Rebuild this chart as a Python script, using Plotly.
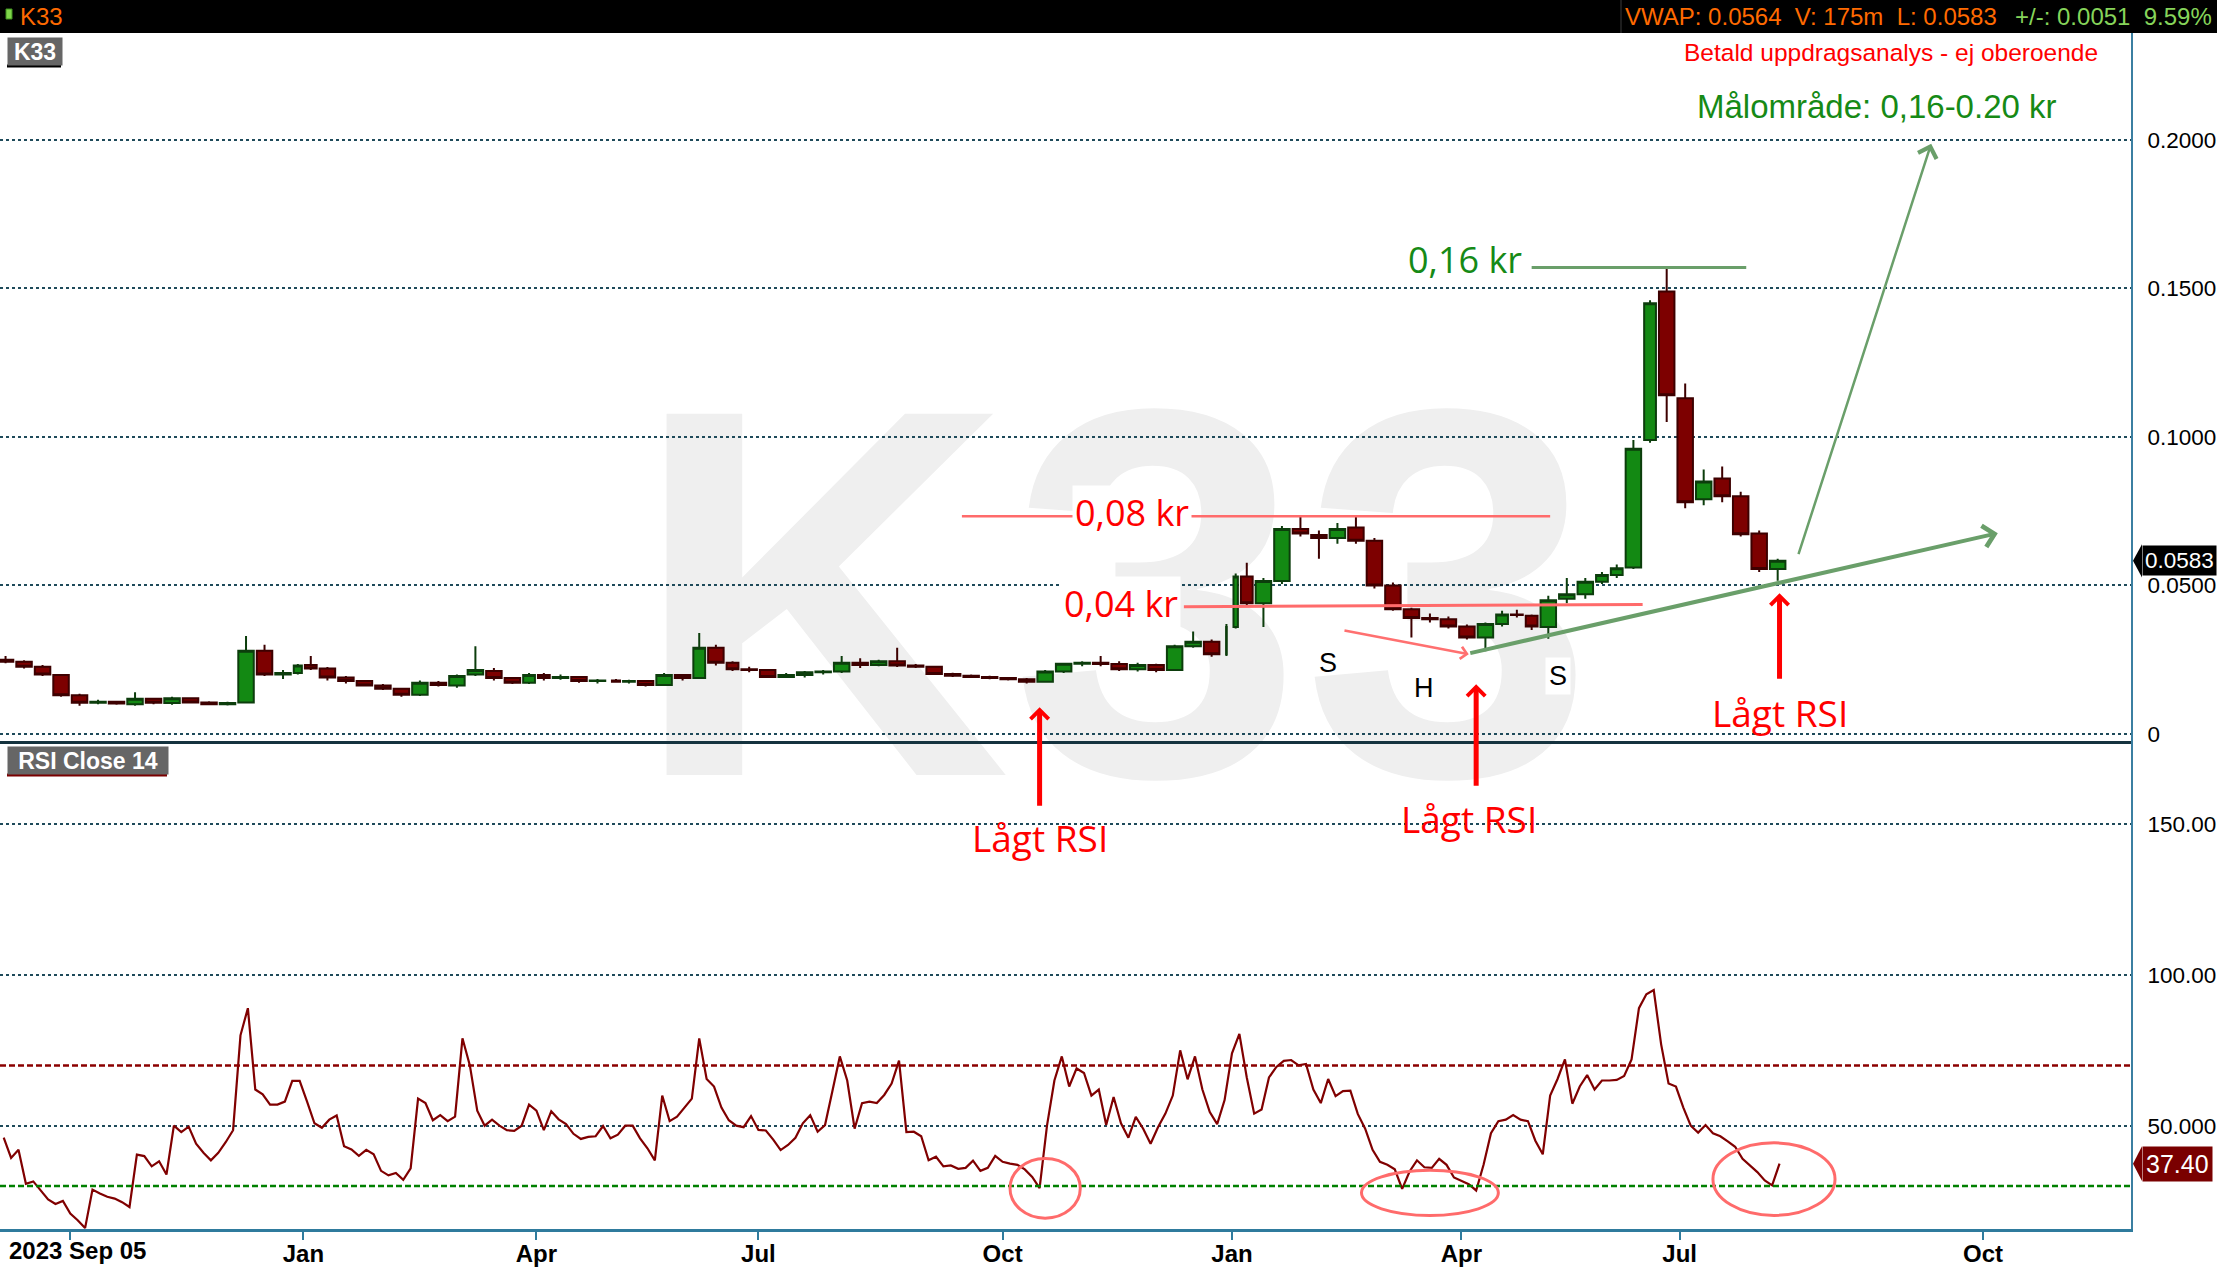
"""K33 daily chart with RSI(14) panel and hand-drawn style annotations."""

import pandas as pd
import plotly.graph_objects as go
from plotly.subplots import make_subplots

FIRST_DAY = "2023-09-05"
LAST_DAY = "2025-08-07"
AXIS_END = "2025-11-10"

# Nasdaq Stockholm closing days on weekdays in the period
SE_HOLIDAYS = [
    "2023-12-25", "2023-12-26",
    "2024-01-01", "2024-03-29", "2024-04-01", "2024-05-01", "2024-05-09",
    "2024-06-06", "2024-06-21", "2024-12-24", "2024-12-25", "2024-12-26",
    "2024-12-31",
    "2025-01-01", "2025-01-06", "2025-04-18", "2025-04-21", "2025-05-01",
    "2025-05-29", "2025-06-06", "2025-06-20",
]

# one candle per week, drawn mid-week
week_open = [
    .0250, .0243, .0226, .0198, .0130, .0105, .0108, .0100, .0118, .0104,
    .0120, .0106, .0100, .0106, .0280, .0200, .0205, .0232, .0220, .0190,
    .0178, .0163, .0152, .0132, .0172, .0163, .0200, .0212, .0188, .0172,
    .0198, .0188, .0192, .0178, .0180, .0176, .0178, .0165, .0198, .0188,
    .0290, .0240, .0218, .0215, .0192, .0198, .0208, .0210, .0240, .0232,
    .0245, .0230, .0226, .0202, .0196, .0192, .0188, .0184, .0176, .0210,
    .0236, .0240, .0235, .0218, .0232, .0215, .0295, .0310, .0268, .0360,
    .0530, .0440, .0515, .0690, .0670, .0660, .0695, .0650, .0500, .0420,
    .0390, .0386, .0362, .0325, .0370, .0402, .0398, .0360, .0455, .0470,
    .0512, .0535, .0560, .0990, .1490, .1130, .0790, .0860, .0800, .0675,
    .0555,
]
week_high = [
    .0262, .0248, .0232, .0202, .0135, .0115, .0110, .0140, .0122, .0125,
    .0123, .0110, .0108, .0330, .0300, .0215, .0235, .0262, .0225, .0195,
    .0180, .0168, .0155, .0180, .0178, .0200, .0295, .0222, .0192, .0205,
    .0205, .0200, .0195, .0185, .0185, .0182, .0180, .0205, .0202, .0340,
    .0300, .0245, .0226, .0218, .0205, .0212, .0215, .0262, .0255, .0250,
    .0290, .0235, .0228, .0206, .0200, .0196, .0192, .0188, .0215, .0240,
    .0245, .0262, .0245, .0240, .0236, .0300, .0345, .0318, .0370, .0540,
    .0576, .0525, .0700, .0735, .0685, .0710, .0730, .0660, .0510, .0425,
    .0405, .0395, .0368, .0375, .0415, .0418, .0402, .0465, .0525, .0525,
    .0545, .0570, .0990, .1460, .1566, .1180, .0890, .0900, .0815, .0685,
    .0590,
]
week_low = [
    .0238, .0220, .0195, .0125, .0095, .0100, .0098, .0095, .0100, .0098,
    .0103, .0097, .0096, .0102, .0195, .0185, .0200, .0215, .0180, .0170,
    .0160, .0148, .0125, .0128, .0160, .0155, .0195, .0180, .0168, .0168,
    .0180, .0182, .0172, .0170, .0172, .0170, .0160, .0162, .0180, .0185,
    .0230, .0212, .0208, .0188, .0188, .0190, .0200, .0205, .0222, .0228,
    .0225, .0222, .0198, .0192, .0188, .0184, .0180, .0170, .0172, .0205,
    .0228, .0228, .0212, .0210, .0208, .0212, .0290, .0260, .0262, .0355,
    .0430, .0360, .0505, .0665, .0590, .0640, .0640, .0490, .0415, .0325,
    .0375, .0355, .0318, .0278, .0362, .0392, .0350, .0320, .0440, .0455,
    .0505, .0525, .0555, .0980, .1050, .0760, .0770, .0780, .0665, .0545,
    .0516,
]
week_close = [
    .0243, .0226, .0200, .0130, .0105, .0108, .0102, .0118, .0105, .0120,
    .0106, .0100, .0104, .0280, .0200, .0205, .0230, .0220, .0190, .0178,
    .0163, .0152, .0132, .0172, .0165, .0195, .0215, .0188, .0172, .0198,
    .0188, .0192, .0178, .0180, .0176, .0178, .0165, .0198, .0188, .0290,
    .0240, .0218, .0215, .0192, .0198, .0208, .0210, .0240, .0232, .0245,
    .0230, .0226, .0202, .0196, .0192, .0188, .0184, .0176, .0210, .0236,
    .0240, .0235, .0218, .0232, .0215, .0295, .0310, .0268, .0360, .0530,
    .0440, .0515, .0690, .0675, .0660, .0690, .0650, .0500, .0420, .0390,
    .0386, .0362, .0325, .0370, .0402, .0400, .0362, .0450, .0470, .0512,
    .0535, .0558, .0960, .1450, .1140, .0780, .0850, .0800, .0672, .0555,
    .0583,
]

# RSI close 14, every second trading day, last value on LAST_DAY
rsi_close14 = [
    46, 39.3, 42, 30.7, 31.5, 28.3, 25.5, 24, 25, 20.8,
    18.6, 16, 28.8, 27.5, 26.4, 25.8, 24.6, 23, 40.4, 39.9,
    36.5, 38.2, 33.8, 50, 47.9, 49.7, 44, 41, 38.5, 41,
    44.5, 48.5, 80, 89, 62, 60.4, 57, 57, 58, 64.9,
    64.9, 58, 50.8, 49.3, 52, 53.4, 43.2, 42.1, 40, 42,
    40.5, 35, 33.5, 34.3, 32, 35.8, 59, 57.5, 51.8, 53.5,
    51.5, 53, 79, 70, 55, 50, 52, 50, 48.5, 48.3,
    50, 57, 55, 48.5, 54.8, 52.1, 50.5, 47.3, 45.6, 46.3,
    46.5, 49.9, 45.8, 47, 50, 50, 45.8, 42.5, 38.5, 60,
    51.5, 53, 56, 59, 79, 65.5, 63, 56, 51.8, 50,
    49.5, 53.2, 48.6, 48.4, 45.4, 41.9, 43.6, 46, 50.8, 53.5,
    48, 50.2, 61.5, 73, 65, 49, 57.5, 58, 57.5, 60.2,
    64, 71.6, 47.9, 48, 46.5, 38.5, 39.7, 36.5, 36.8, 35.7,
    36, 38.4, 35, 36, 40, 38, 37.4, 37, 35.5, 33,
    29.3, 50, 65, 73, 63, 69, 67.5, 60, 62, 50.2,
    59.5, 50.8, 46, 52.9, 49, 44, 49.5, 54, 60, 75,
    65.4, 73, 62, 54.5, 50.5, 58.5, 74, 80.5, 66, 54,
    55.4, 66, 69.5, 71.5, 71.8, 70, 70.5, 62, 57.5, 65.5,
    59.8, 61.5, 61.6, 53.9, 49, 42, 38, 37, 35.5, 29,
    34.8, 38.5, 36.2, 36, 39, 37, 32.8, 31.8, 30.6, 28.5,
    37, 47.5, 51.5, 52, 53.5, 52, 51.5, 45, 40.5, 60,
    65.5, 72, 57.3, 63, 66.8, 62, 65, 65, 65.2, 66.5,
    72, 89, 93.6, 95, 77, 64, 63, 56, 50, 47.7,
    50.2, 47.5, 46.5, 44.8, 43, 39, 36.8, 34.6, 31.8, 30.2, 37.4,
]

# scale labels as far as they are visible at the right edge
price_ticks = [0, 0.05, 0.10, 0.15, 0.20]
price_tick_text = ["0", "0.0500", "0.1000", "0.1500", "0.2000"]
rsi_ticks = [50, 100, 150]
rsi_tick_text = ["50.000", "100.00", "150.00"]
month_ticks = ["2023-10-02", "2024-01-02", "2024-04-02", "2024-07-01", "2024-10-01",
               "2025-01-02", "2025-04-01", "2025-07-01", "2025-10-01"]
month_text = ["", "Jan", "Apr", "Jul", "Oct", "Jan", "Apr", "Jul", "Oct"]

last_price = 0.0583
last_rsi = 37.40

# ---------------------------------------------------------------- calendar
holidays = pd.to_datetime(SE_HOLIDAYS)
trading_days = pd.bdate_range(FIRST_DAY, LAST_DAY, freq="C", holidays=list(holidays))
closed_days = pd.date_range(FIRST_DAY, LAST_DAY).difference(trading_days)
breaks = [dict(values=[d.strftime("%Y-%m-%d") for d in closed_days])]

week_days = []
for d in pd.date_range("2023-09-06", "2025-08-06", freq="W-WED"):
    while d in holidays:
        d += pd.Timedelta(days=1)
    week_days.append(d + pd.Timedelta(hours=12))
n_weeks = min(len(week_days), len(week_open))
week_days = week_days[:n_weeks]

rsi_days = trading_days[::-1][::2][::-1][-len(rsi_close14):]
rsi_vals = rsi_close14[-len(rsi_days):]

# ---------------------------------------------------------------- geometry
W, H = 2217, 1269
PLOT_R, PLOT_T, PLOT_B = 2131, 33, 1229
PLOT_H = PLOT_B - PLOT_T


def px(x):
    return x / PLOT_R


def py(y):
    return (PLOT_B - y) / PLOT_H


FONT = "Liberation Sans, Arial, sans-serif"
HAND = "Open Sans, Noto Sans, sans-serif"
RED = "#ff0000"
SOFT_RED = "#ff6b6b"
SOFT_GREEN = "#6a9f6a"
DARK_GREEN = "#168a16"

fig = make_subplots(rows=2, cols=1, shared_xaxes=True, vertical_spacing=0,
                    row_heights=[0.592, 0.408])

fig.add_trace(
    go.Candlestick(
        x=week_days,
        open=week_open[:n_weeks],
        high=week_high[:n_weeks],
        low=week_low[:n_weeks],
        close=week_close[:n_weeks],
        increasing={"line": {"color": "#0c3d0c", "width": 2}, "fillcolor": "#138913"},
        decreasing={"line": {"color": "#3d0000", "width": 2}, "fillcolor": "#7d0000"},
        whiskerwidth=0,
        showlegend=False,
        hoverinfo="skip",
    ),
    row=1, col=1,
)
fig.add_trace(
    go.Scatter(x=rsi_days, y=rsi_vals, mode="lines",
               line={"color": "#800000", "width": 2.2},
               showlegend=False, hoverinfo="skip"),
    row=2, col=1,
)

fig.update_layout(
    width=W, height=H,
    margin={"l": 0, "r": W - PLOT_R, "t": PLOT_T, "b": H - PLOT_B, "autoexpand": False},
    plot_bgcolor="white", paper_bgcolor="white",
    font={"family": FONT, "color": "black", "size": 24},
    showlegend=False, hovermode=False,
    boxgap=0.25, boxgroupgap=0.07,
    xaxis_rangeslider_visible=False,
)

fig.update_xaxes(type="date", range=[FIRST_DAY, AXIS_END], rangebreaks=breaks,
                 showgrid=False, zeroline=False, automargin=False)
fig.update_xaxes(row=1, col=1, showline=True, linecolor="#15333f", linewidth=3,
                 showticklabels=False, ticks="")
fig.update_xaxes(row=2, col=1, showline=True, linecolor="#2f7b9d", linewidth=3,
                 ticks="outside", ticklen=8, tickwidth=2, tickcolor="#2f7b9d",
                 ticklabelstandoff=-7,
                 tickvals=month_ticks, ticktext=month_text,
                 tickfont={"size": 24, "weight": "bold", "color": "black"})

yaxis_style = dict(
    side="right", showgrid=True, gridcolor="#1e4a5a", griddash="dot", gridwidth=1.5,
    zeroline=False, showline=True, linecolor="#3b7fa1", linewidth=2, automargin=False,
    ticks="", ticklabelstandoff=10, tickfont={"size": 22.5, "color": "black"},
)
fig.update_yaxes(row=1, col=1, range=[-0.0024, 0.236],
                 tickvals=price_ticks, ticktext=price_tick_text, **yaxis_style)
fig.update_yaxes(row=2, col=1, range=[15.7, 177.7],
                 tickvals=rsi_ticks, ticktext=rsi_tick_text, **yaxis_style)

shapes = [
    # faint ticker watermark behind the candles
    dict(type="rect", xref="paper", yref="paper", x0=0.2446, x1=0.80, y0=0.3863, y1=0.761,
         line={"width": 0}, fillcolor="rgba(0,0,0,0)", layer="below",
         label={"text": "K33", "textposition": "middle center",
                "font": {"size": 525, "color": "#efefef", "family": FONT, "weight": "bold"}}),
    # black quote bar
    dict(type="rect", xref="paper", yref="paper", x0=0, x1=W / PLOT_R, y0=1, y1=py(0),
         fillcolor="black", line={"width": 0}),
    dict(type="line", xref="paper", yref="paper", x0=px(1621), x1=px(1621), y0=1, y1=py(0),
         line={"color": "#3a3a3a", "width": 1}),
    dict(type="rect", xref="paper", yref="paper", x0=px(6), x1=px(12), y0=py(19), y1=py(9),
         fillcolor="#7fd64a", line={"color": "#3f8f1f", "width": 1}),
    # panel label underlines
    dict(type="line", xref="paper", yref="paper", x0=px(7), x1=px(61), y0=py(66), y1=py(66),
         line={"color": "black", "width": 3}),
    dict(type="line", xref="paper", yref="paper", x0=px(7), x1=px(167), y0=py(775), y1=py(775),
         line={"color": "#7a0000", "width": 3}),
    # RSI 70 / 30
    dict(type="line", xref="paper", yref="y2", x0=0, x1=1, y0=70, y1=70,
         line={"color": "#8b0000", "width": 2.5, "dash": "6px,3px"}),
    dict(type="line", xref="paper", yref="y2", x0=0, x1=1, y0=30, y1=30,
         line={"color": "#008000", "width": 2.5, "dash": "6px,3px"}),
    # price levels
    dict(type="line", xref="x", yref="y", x0="2025-04-30", x1="2025-07-25", y0=0.157, y1=0.157,
         line={"color": SOFT_GREEN, "width": 3}),
    dict(type="line", xref="x", yref="y", x0="2024-09-16", x1="2025-05-08", y0=0.0733, y1=0.0733,
         line={"color": SOFT_RED, "width": 2.5}),
    dict(type="line", xref="x", yref="y", x0="2024-12-09", x1="2025-06-16", y0=0.0428, y1=0.0436,
         line={"color": SOFT_RED, "width": 3}),
    # low RSI rings
    dict(type="circle", xref="x2", yref="y2", x0="2024-10-03", x1="2024-10-30", y0=19.3, y1=39.1,
         line={"color": SOFT_RED, "width": 3}),
    dict(type="circle", xref="x2", yref="y2", x0="2025-02-21", x1="2025-04-15", y0=20.2, y1=35.2,
         line={"color": SOFT_RED, "width": 3}),
    dict(type="circle", xref="x2", yref="y2", x0="2025-07-14", x1="2025-08-22", y0=20.2, y1=44.3,
         line={"color": SOFT_RED, "width": 3}),
    # pointers of the last value labels
    dict(type="path", xref="paper", yref="y",
         path=f"M {px(2133)},{last_price} L {px(2142)},{last_price + 0.0056} "
              f"L {px(2142)},{last_price - 0.0056} Z",
         fillcolor="black", line={"width": 0}),
    dict(type="path", xref="paper", yref="y2",
         path=f"M {px(2133)},{last_rsi} L {px(2142)},{last_rsi + 5.8} "
              f"L {px(2142)},{last_rsi - 5.8} Z",
         fillcolor="#7a0000", line={"width": 0}),
]
fig.update_layout(shapes=shapes)

nb = "\u00a0\u00a0"
annotations = [
    # quote bar
    dict(xref="paper", yref="paper", x=px(18), y=py(16.5), xanchor="left", yanchor="middle",
         text="K33", showarrow=False, font={"size": 24, "color": "#ff6a00"}),
    dict(xref="paper", yref="paper", x=px(1999), y=py(16.5), xanchor="right", yanchor="middle",
         text=f"VWAP: 0.0564{nb}V: 175m{nb}L: 0.0583", showarrow=False,
         font={"size": 24, "color": "#ff6a00"}),
    dict(xref="paper", yref="paper", x=px(2214), y=py(16.5), xanchor="right", yanchor="middle",
         text=f"+/-: 0.0051{nb}9.59%", showarrow=False, font={"size": 24, "color": "#86d45a"}),
    # panel labels
    dict(xref="paper", yref="paper", x=px(7), y=py(37), xanchor="left", yanchor="top",
         text="K33", showarrow=False, bgcolor="#666666", borderpad=1, width=52, height=25,
         align="center", font={"size": 23, "color": "white", "weight": "bold"}),
    dict(xref="paper", yref="paper", x=px(7), y=py(746), xanchor="left", yanchor="top",
         text="RSI Close 14", showarrow=False, bgcolor="#666666", borderpad=1, width=158,
         height=25, align="center", font={"size": 23, "color": "white", "weight": "bold"}),
    dict(xref="paper", yref="paper", x=px(7), y=py(1250), xanchor="left", yanchor="middle",
         text="2023 Sep 05", showarrow=False, font={"size": 24, "weight": "bold"}),
    # header notes
    dict(xref="paper", yref="paper", x=px(1891), y=py(52), xanchor="center", yanchor="middle",
         text="Betald uppdragsanalys - ej oberoende", showarrow=False,
         font={"size": 24.5, "color": RED}),
    dict(xref="paper", yref="paper", x=px(1877), y=py(106), xanchor="center", yanchor="middle",
         text="Målområde: 0,16-0.20 kr", showarrow=False,
         font={"size": 33, "color": DARK_GREEN}),
    # level labels
    dict(xref="x", yref="y", x="2025-04-28", y=0.1598, xanchor="right", yanchor="middle",
         text="0,16 kr", showarrow=False, font={"size": 36, "color": DARK_GREEN, "family": HAND}),
    dict(xref="x", yref="y", x="2024-11-19", y=0.0747, xanchor="center", yanchor="middle",
         text="0,08 kr", showarrow=False, bgcolor="white", borderpad=2,
         font={"size": 36, "color": RED, "family": HAND}),
    dict(xref="x", yref="y", x="2024-11-14", y=0.0438, xanchor="center", yanchor="middle",
         text="0,04 kr", showarrow=False, bgcolor="white", borderpad=2,
         font={"size": 36, "color": RED, "family": HAND}),
    # inverse head and shoulders
    dict(xref="x", yref="y", x="2025-02-10", y=0.024, text="S", showarrow=False,
         font={"size": 27}),
    dict(xref="x", yref="y", x="2025-03-18", y=0.0156, text="H", showarrow=False,
         font={"size": 27}),
    dict(xref="x", yref="y", x="2025-05-12", y=0.0195, text="S", showarrow=False,
         bgcolor="white", borderpad=3, font={"size": 27}),
    dict(xref="x", yref="y", x="2025-04-03", y=0.0268, axref="x", ayref="y",
         ax="2025-02-14", ay=0.0349, text="", showarrow=True, arrowhead=4,
         arrowsize=0.95, arrowwidth=2.5, arrowcolor="#ff7070"),
    # trend line and target arrow
    dict(xref="x", yref="y", x="2025-10-05", y=0.0676, axref="x", ayref="y",
         ax="2025-04-03", ay=0.0271, text="", showarrow=True, arrowhead=4,
         arrowsize=1.05, arrowwidth=4, arrowcolor=SOFT_GREEN),
    dict(xref="x", yref="y", x="2025-09-17", y=0.1987, axref="x", ayref="y",
         ax="2025-08-12", ay=0.060, text="", showarrow=True, arrowhead=4,
         arrowsize=1.5, arrowwidth=2.5, arrowcolor=SOFT_GREEN),
    # low RSI markers
    dict(xref="x", yref="y", x="2024-10-15", y=0.009, ax=0, ay=100, text="",
         showarrow=True, arrowhead=4, arrowsize=0.7, arrowwidth=5, arrowcolor=RED),
    dict(xref="x", yref="y", x="2025-04-07", y=0.0167, ax=0, ay=103, text="",
         showarrow=True, arrowhead=4, arrowsize=0.7, arrowwidth=5, arrowcolor=RED),
    dict(xref="x", yref="y", x="2025-08-07", y=0.0474, ax=0, ay=87, text="",
         showarrow=True, arrowhead=4, arrowsize=0.7, arrowwidth=5, arrowcolor=RED),
    dict(xref="x2", yref="y2", x="2024-10-15", y=145.8, text="Lågt RSI", showarrow=False,
         font={"size": 37, "color": RED, "family": HAND}),
    dict(xref="x2", yref="y2", x="2025-04-03", y=151.9, text="Lågt RSI", showarrow=False,
         font={"size": 37, "color": RED, "family": HAND}),
    dict(xref="x", yref="y", x="2025-08-07", y=0.0072, text="Lågt RSI", showarrow=False,
         font={"size": 37, "color": RED, "family": HAND}),
    # last values on the scales
    dict(xref="paper", yref="y", x=px(2142), y=last_price, xanchor="left", yanchor="middle",
         text=f"{last_price:.4f}", showarrow=False, bgcolor="black", borderpad=2,
         font={"size": 22.5, "color": "white"}),
    dict(xref="paper", yref="y2", x=px(2142), y=last_rsi, xanchor="left", yanchor="middle",
         text=f"{last_rsi:.2f}", showarrow=False, bgcolor="#7a0000", borderpad=3,
         font={"size": 25, "color": "white"}),
]
fig.update_layout(annotations=annotations)

# the page is exactly the figure size: drop the default body margin
fig.write_html(
    "out.html",
    config={"displayModeBar": False},
    post_script="document.body.style.margin='0';document.body.style.overflow='hidden';",
)
